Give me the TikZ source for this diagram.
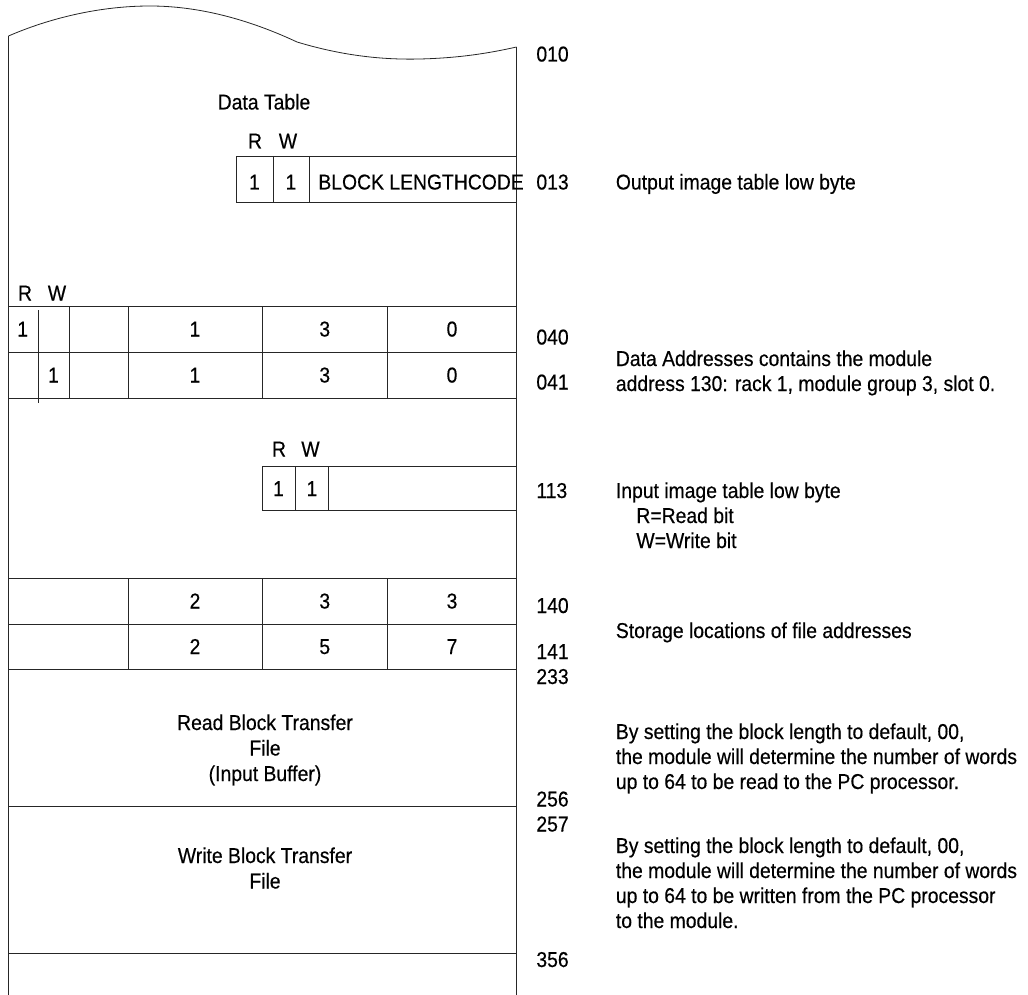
\documentclass[tikz,border=0pt]{standalone}
\usepackage{fontspec}
\setmainfont[FakeStretch=0.9,FakeBold=0.4]{Liberation Sans}
\begin{document}
\begin{tikzpicture}[x=1pt,y=-1pt,line width=0.8pt,
  txt/.style={inner sep=0pt,font=\fontsize{21.5}{25}\selectfont},
  lbl/.style={txt,anchor=base west},
  ctr/.style={txt,anchor=base},
  rule/.style={draw=black!85}]
\useasboundingbox (0,0) rectangle (1028,995);
% torn top edge and page sides
\draw[rule] (8.5,36) .. controls (50,18) and (100,6) .. (150,6)
  .. controls (200,6) and (250,20) .. (297,42)
  .. controls (340,55) and (380,60) .. (420,59)
  .. controls (460,58) and (490,53) .. (516.5,47);
\draw[rule] (8.5,36) -- (8.5,995);
\draw[rule] (516.5,47) -- (516.5,995);
% block 013
\draw[rule] (236.5,156) rectangle (516.5,202.5);
\draw[rule] (273,156) -- (273,202.5);
\draw[rule] (309,156) -- (309,202.5);
\node[ctr] (dt) at (264,109.5) {Data Table};
\node[ctr] (r1) at (255,148.5) {R};
\node[ctr] (w1) at (288,148.5) {W};
\node[ctr] (b1r) at (254.5,189.5) {1};
\node[ctr] (b1w) at (291,189.5) {1};
\node[lbl] (blc) at (318,189.5) {BLOCK LENGTHCODE};
\node[lbl] (a010) at (536,61.5) {010};
\node[lbl] (a013) at (536,189.5) {013};
\node[lbl] (d013) at (615.5,189.5) {Output image table low byte};
% rows 040 / 041
\node[ctr] (r2) at (25,300.5) {R};
\node[ctr] (w2) at (57,300.5) {W};
\draw[rule] (8.5,306) -- (516.5,306);
\draw[rule] (8.5,352) -- (516.5,352);
\draw[rule] (8.5,398) -- (516.5,398);
\draw[rule] (38.6,310) -- (38.6,403);
\foreach \cx in {69.5,128.5,262,387.5} \draw[rule] (\cx,306) -- (\cx,398);
\node[ctr] (c40a) at (22.7,336.5) {1};
\node[ctr] (c40b) at (195,336.5) {1};
\node[ctr] (c40c) at (324.75,336.5) {3};
\node[ctr] (c40d) at (452,336.5) {0};
\node[ctr] (c41a) at (53.5,382.5) {1};
\node[ctr] (c41b) at (195,382.5) {1};
\node[ctr] (c41c) at (324.75,382.5) {3};
\node[ctr] (c41d) at (452,382.5) {0};
\node[lbl] (a040) at (536,344.5) {040};
\node[lbl] (a041) at (536,389.5) {041};
\node[lbl] (d040a) at (615.5,366) {Data Addresses contains the module};
\node[lbl] (d040b) at (615.5,391) {address 130: rack 1, module group 3, slot 0.};
% block 113
\node[ctr] (r3) at (279,456.5) {R};
\node[ctr] (w3) at (310.5,456.5) {W};
\draw[rule] (262,466) rectangle (516.5,510);
\draw[rule] (295,466) -- (295,510);
\draw[rule] (328.5,466) -- (328.5,510);
\node[ctr] (b3r) at (278.5,496) {1};
\node[ctr] (b3w) at (312,496) {1};
\node[lbl] (a113) at (536,498) {113};
\node[lbl] (d113a) at (615.5,498) {Input image table low byte};
\node[lbl] (d113b) at (636,523) {R=Read bit};
\node[lbl] (d113c) at (636,548) {W=Write bit};
% rows 140 / 141
\draw[rule] (8.5,578) -- (516.5,578);
\draw[rule] (8.5,624) -- (516.5,624);
\draw[rule] (8.5,669) -- (516.5,669);
\foreach \cx in {128.5,262,387.5} \draw[rule] (\cx,578) -- (\cx,669);
\node[ctr] (c140a) at (195,608.5) {2};
\node[ctr] (c140b) at (324.75,608.5) {3};
\node[ctr] (c140c) at (452,608.5) {3};
\node[ctr] (c141a) at (195,654) {2};
\node[ctr] (c141b) at (324.75,654) {5};
\node[ctr] (c141c) at (452,654) {7};
\node[lbl] (a140) at (536,613) {140};
\node[lbl] (a141) at (536,659) {141};
\node[lbl] (a233) at (536,684) {233};
\node[lbl] (d140) at (615.5,638) {Storage locations of file addresses};
% read block transfer file
\node[ctr] (rb1) at (265,730) {Read Block Transfer};
\node[ctr] (rb2) at (265,755.5) {File};
\node[ctr] (rb3) at (265,781) {(Input Buffer)};
\draw[rule] (8.5,806) -- (516.5,806);
\node[lbl] (a256) at (536,806.5) {256};
\node[lbl] (a257) at (536,831.5) {257};
\node[lbl] (d233a) at (615.5,739) {By setting the block length to default, 00,};
\node[lbl] (d233b) at (615.5,764) {the module will determine the number of words};
\node[lbl] (d233c) at (615.5,789) {up to 64 to be read to the PC processor.};
% write block transfer file
\node[ctr] (wb1) at (265,863) {Write Block Transfer};
\node[ctr] (wb2) at (265,888.5) {File};
\draw[rule] (8.5,953) -- (516.5,953);
\node[lbl] (a356) at (536,967) {356};
\node[lbl] (d257a) at (615.5,853) {By setting the block length to default, 00,};
\node[lbl] (d257b) at (615.5,878) {the module will determine the number of words};
\node[lbl] (d257c) at (615.5,903) {up to 64 to be written from the PC processor};
\node[lbl] (d257d) at (615.5,928) {to the module.};
\end{tikzpicture}
\end{document}
